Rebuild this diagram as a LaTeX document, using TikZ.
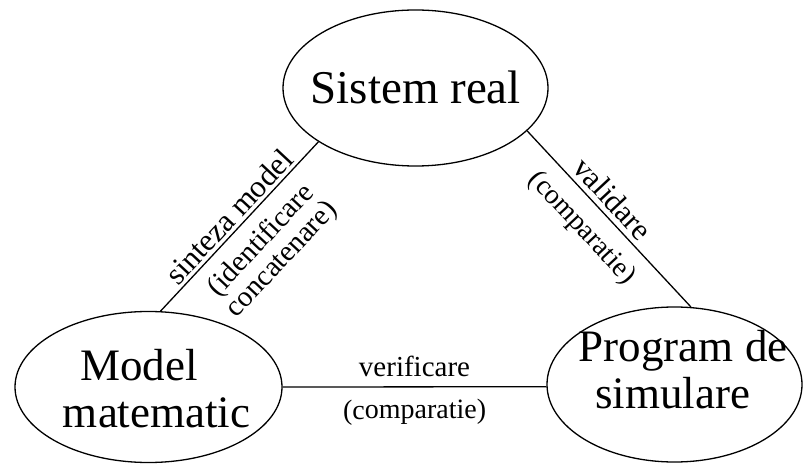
\documentclass[tikz,border=0pt]{standalone}
\usepackage{fontspec}
\setmainfont{Liberation Serif}
\usetikzlibrary{shapes.geometric}
\begin{document}
\begin{tikzpicture}[x=1pt,y=1pt,
  ell/.style={ellipse, draw, line width=1.3pt, inner sep=0pt},
  bigtext/.style={font=\fontsize{45}{47}\selectfont, align=center, inner sep=0pt},
  toptext/.style={font=\fontsize{47}{49}\selectfont, align=center, inner sep=0pt},
  edgelbl/.style={font=\fontsize{28}{28}\selectfont, align=center, inner sep=0pt, sloped},
  edgebig/.style={edgelbl, font=\fontsize{31}{31}\selectfont},
  edgemid/.style={edgelbl, font=\fontsize{29}{28}\selectfont},
  conn/.style={line width=1.3pt}]
\fill[white] (0,0) rectangle (803,464);
\useasboundingbox (0,0) rectangle (803,464);
% ellipses
\node[ell, minimum width=265pt, minimum height=156pt] (real) at (415.5,376) {};
\node[ell, minimum width=267pt, minimum height=151pt] (model) at (148.5,77) {};
\node[ell, minimum width=255pt, minimum height=155pt] (prog) at (674.5,79.5) {};
% texts
\node[toptext] (realtext) at (415.8,377) {Sistem real};
\node[bigtext] (modeltext) at (156.7,75.4) {Model\makebox[35pt]{}\\matematic};
\node[bigtext] (progtext) at (683.3,94.3) {Program de\\simulare\makebox[21pt]{}};
% connectors
\draw[conn] (model.81.4) -- node[edgebig, above=3pt, pos=0.5] (l1) {sinteza model}
  node[edgemid, below=12pt, pos=0.52] (l2) {(identificare\\concatenare)} (real.209);
\draw[conn] (real.-21.4) -- node[edgebig, above=5pt, pos=0.45] (r1) {validare}
  node[edgelbl, below=13pt, pos=0.45] (r2) {(comparatie)} (prog.78.4);
\draw[conn] (model.-0.4) -- node[edgemid, above=9pt, pos=0.5] (b1) {verificare}
  node[edgelbl, below=12pt, pos=0.5] (b2) {(comparatie)} (prog.181.6);
\end{tikzpicture}
\end{document}
